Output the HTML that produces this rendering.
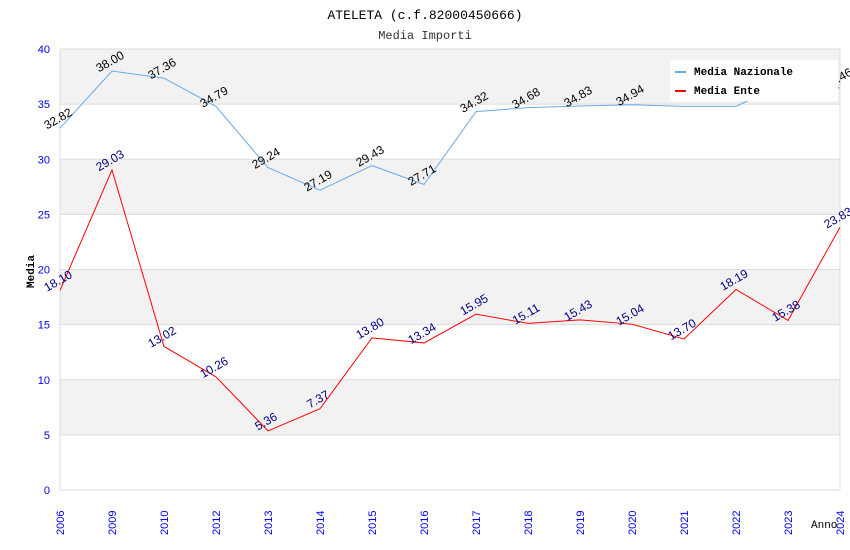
<!DOCTYPE html>
<html><head><meta charset="utf-8"><style>body{margin:0;background:#fff}svg{display:block;font-family:"Liberation Sans",sans-serif}</style></head>
<body>
<svg id="c" width="850" height="550"></svg>
<script>
const categories=["2006","2009","2010","2012","2013","2014","2015","2016","2017","2018","2019","2020","2021","2022","2023","2024"];
const nazionale=[32.82,38.00,37.36,34.79,29.24,27.19,29.43,27.71,34.32,34.68,34.83,34.94,34.8,34.8,37.0,36.46];
const nazLabels=["32.82","38.00","37.36","34.79","29.24","27.19","29.43","27.71","34.32","34.68","34.83","34.94","","","","36.46"];
const ente=[18.10,29.03,13.02,10.26,5.36,7.37,13.80,13.34,15.95,15.11,15.43,15.04,13.70,18.19,15.38,23.83];
const yTicks=[0,5,10,15,20,25,30,35,40];
const NS="http://www.w3.org/2000/svg",s=document.getElementById('c');
const L=60,R=840,T=49,B=490,ymax=40;
const x=i=>L+i*(R-L)/(categories.length-1);
const y=v=>B-v*(B-T)/ymax;
function mk(t,a,txt){const e=document.createElementNS(NS,t);for(const k in a)e.setAttribute(k,a[k]);if(txt!==undefined)e.textContent=txt;s.appendChild(e);return e;}
for(let i=0;i<yTicks.length-1;i++){if(i%2===1){const r=mk('rect',{x:L,y:y(yTicks[i+1]),width:R-L,height:y(yTicks[i])-y(yTicks[i+1]),fill:'#f2f2f2'});

}}
yTicks.forEach(v=>{const g=mk('line',{x1:L,x2:R,y1:y(v),y2:y(v),stroke:'#dcdcdc'});


const t=mk('text',{x:50,y:y(v)+4,'text-anchor':'end','font-size':11,fill:'#0000ee'},v);

});
mk('line',{x1:L,x2:L,y1:T,y2:B,stroke:'#dcdcdc'});mk('line',{x1:R,x2:R,y1:T,y2:B,stroke:'#dcdcdc'});
categories.forEach((c,i)=>{const t=mk('text',{transform:`translate(${x(i)+4},${B+45}) rotate(-90)`,'font-size':11,fill:'#0000ee'},c);

});
function series(vals,labels,color,lc,name){const p=mk('polyline',{points:vals.map((v,i)=>x(i)+','+y(v)).join(' '),fill:'none',stroke:color,'stroke-width':1});


vals.forEach((v,i)=>{const lab=labels?labels[i]:v.toFixed(2);if(!lab)return;const t=mk('text',{transform:`translate(${x(i)},${y(v)-6}) rotate(-30)`,'text-anchor':'middle','font-size':12,fill:lc},lab);

});}
series(nazionale,nazLabels,'#66aaee','#000','nazionale');
series(ente,null,'#ff0000','#000080','ente');
const lg=mk('rect',{x:670,y:60,width:168,height:41,fill:'#fff'});


mk('line',{x1:675,x2:686,y1:72,y2:72,stroke:'#66aaee','stroke-width':2});
mk('line',{x1:675,x2:686,y1:91,y2:91,stroke:'#ff0000','stroke-width':2});
const l1=mk('text',{x:694,y:75,'font-size':11,'font-weight':'bold','font-family':'Liberation Mono, monospace'},'Media Nazionale');


const l2=mk('text',{x:694,y:94,'font-size':11,'font-weight':'bold','font-family':'Liberation Mono, monospace'},'Media Ente');


const tt=mk('text',{x:425,y:19,'text-anchor':'middle','font-size':13,'font-family':'Liberation Mono, monospace'},'ATELETA (c.f.82000450666)');


const st=mk('text',{x:425,y:39,'text-anchor':'middle','font-size':12,fill:'#333','font-family':'Liberation Mono, monospace'},'Media Importi');


const yt=mk('text',{transform:'translate(34,288) rotate(-90)','font-size':11,'font-weight':'bold','font-family':'Liberation Mono, monospace'},'Media');


const xt=mk('text',{x:811,y:528,'font-size':11,'font-family':'Liberation Mono, monospace'},'Anno');


</script>
</body></html>
